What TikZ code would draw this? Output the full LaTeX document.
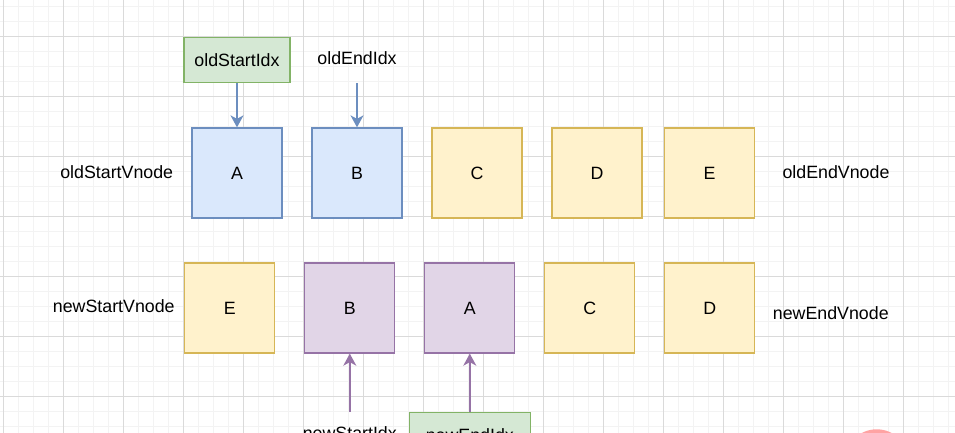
\documentclass[tikz,border=0pt]{standalone}
\usepackage{fontspec}
\setmainfont{Liberation Sans}
\definecolor{dioblue}{HTML}{DAE8FC}
\definecolor{dioblueline}{HTML}{6C8EBF}
\definecolor{dioyellow}{HTML}{FFF2CC}
\definecolor{dioyellowline}{HTML}{D6B656}
\definecolor{diopurple}{HTML}{E1D5E7}
\definecolor{diopurpleline}{HTML}{9673A6}
\definecolor{diogreen}{HTML}{D5E8D4}
\definecolor{diogreenline}{HTML}{82B366}
\definecolor{gridminor}{HTML}{F3F3F3}
\definecolor{gridmajor}{HTML}{DADADA}
\definecolor{dotpink}{HTML}{FFA3A3}
\usetikzlibrary{arrows.meta}

\begin{document}
\begin{tikzpicture}[x=1pt,y=-1pt,
  font=\fontsize{17.8}{21}\selectfont,
  vnode/.style={draw,line width=1.3pt,minimum width=90,minimum height=90},
  oldvn/.style={vnode,fill=dioblue,draw=dioblueline},
  keepvn/.style={vnode,fill=dioyellow,draw=dioyellowline},
  movedvn/.style={vnode,fill=diopurple,draw=diopurpleline},
  idxbox/.style={draw=diogreenline,fill=diogreen,line width=1.3pt,minimum height=45},
  idxarrow/.style={-{Stealth[length=12pt,width=13pt,inset=3.5pt]},line width=1.4pt}]
  \useasboundingbox (0,0) rectangle (955,433);
  \clip (0,0) rectangle (955,433);
  \fill[white] (0,0) rectangle (955,433);
  % background grid
  \foreach \gx in {3.3,18.3,...,955} \draw[gridminor,line width=1pt] (\gx,0) -- (\gx,433);
  \foreach \gy in {6.7,21.7,...,433} \draw[gridminor,line width=1pt] (0,\gy) -- (955,\gy);
  \foreach \gx in {3.3,63.3,...,955} \draw[gridmajor,line width=1pt] (\gx,0) -- (\gx,433);
  \foreach \gy in {36.7,96.7,...,433} \draw[gridmajor,line width=1pt] (0,\gy) -- (955,\gy);

  % old children
  \node[oldvn]  (oldA) at (237,173) {A};
  \node[oldvn]  (oldB) at (357,173) {B};
  \node[keepvn] (oldC) at (477,173) {C};
  \node[keepvn] (oldD) at (597,173) {D};
  \node[keepvn] (oldE) at (709.5,173) {E};
  \node (oldStartVnode) at (116.7,172) {oldStartVnode};
  \node (oldEndVnode) at (836,172) {oldEndVnode};

  % new children
  \node[keepvn]  (newE) at (229.8,308) {E};
  \node[movedvn] (newB) at (349.8,308) {B};
  \node[movedvn] (newA) at (469.8,308) {A};
  \node[keepvn]  (newC) at (589.8,308) {C};
  \node[keepvn]  (newD) at (709.8,308) {D};
  \node (newStartVnode) at (113.8,306) {newStartVnode};
  \node (newEndVnode) at (830.8,313) {newEndVnode};

  % indices
  \node[idxbox,minimum width=106] (oldStartIdx) at (237,60.3) {oldStartIdx};
  \node[minimum height=50] (oldEndIdx) at (357,58.3) {oldEndIdx};
  \node[minimum height=42.4] (newStartIdx) at (349.8,433.5) {newStartIdx};
  \node[idxbox,minimum width=120.7] (newEndIdx) at (469.8,435.2) {newEndIdx};
  \draw[idxarrow,dioblueline] (oldStartIdx.south) -- (oldA.north);
  \draw[idxarrow,dioblueline] (oldEndIdx.south) -- (oldB.north);
  \draw[idxarrow,diopurpleline] (newStartIdx.north) -- (newB.south);
  \draw[idxarrow,diopurpleline] (newEndIdx.north) -- (newA.south);

  \fill[dotpink] (876.7,461.6) circle (32.3);
\end{tikzpicture}
\end{document}
